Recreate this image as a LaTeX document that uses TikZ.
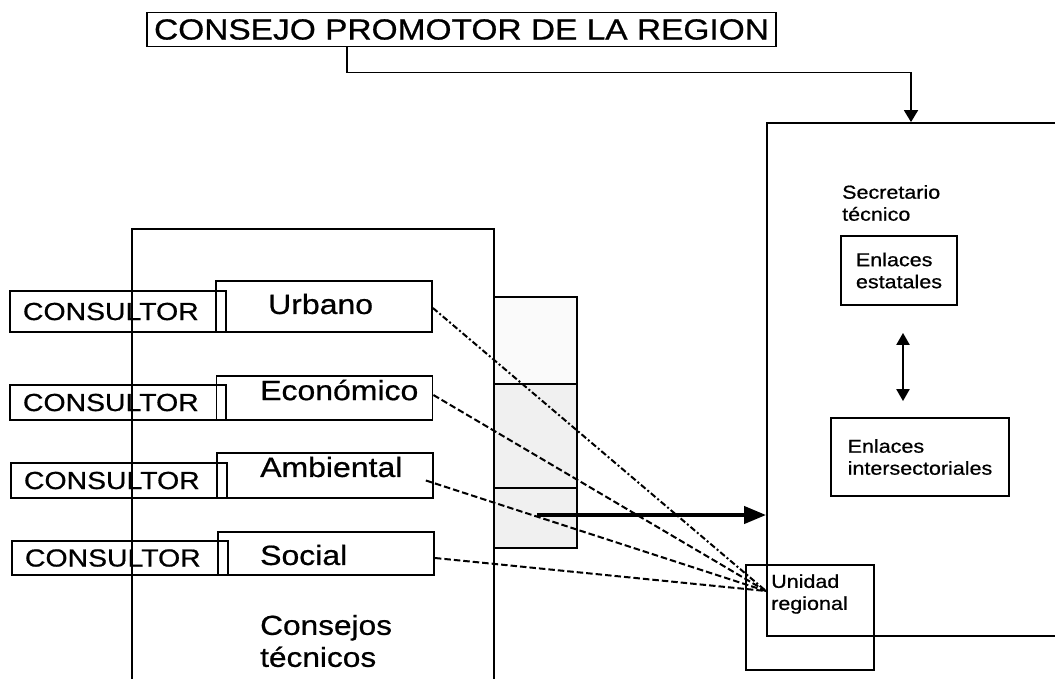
\documentclass[tikz,border=0pt]{standalone}
\usepackage{fontspec}
\setmainfont{Liberation Sans}[FakeStretch=1.15,FakeBold=0.7]
\usetikzlibrary{positioning,arrows.meta}

\begin{document}
\begin{tikzpicture}[x=1pt,y=-1pt,
  box/.style={draw, line width=1.8pt, inner sep=0pt},
  titlebox/.style={box, minimum width=629pt, minimum height=34pt, font=\fontsize{29.1}{35}\selectfont},
  consbox/.style={box, align=left, text width=190pt, inner xsep=13pt, minimum height=35pt, font=\fontsize{24.7}{29}\selectfont},
  sectbox/.style={box, minimum width=216pt},
  sectlbl/.style={anchor=west, inner sep=0pt, font=\fontsize{27.8}{32}\selectfont},
  smalltxt/.style={align=left, inner sep=0pt, font=\fontsize{18.7}{22}\selectfont},
  linkbox/.style={box, smalltxt},
  link/.style={line width=1.8pt, -{Triangle[length=12pt,width=14pt]}},
  dbl/.style={line width=2.2pt, {Triangle[length=12pt,width=13pt]}-{Triangle[length=12pt,width=13pt]}},
  bigarrow/.style={line width=4pt, -{Triangle[length=22pt,width=17pt]}},
  dashlink/.style={line width=2pt, dash pattern=on 6.5pt off 3pt},
  dotlink/.style={line width=2pt, dash pattern=on 6pt off 2.5pt on 2pt off 2.5pt}]
\useasboundingbox (0,0) rectangle (1055,678);

% consejo promotor
\node[titlebox] (title) at (461.5,29.5) {CONSEJO PROMOTOR DE LA REGION};

% secretario tecnico
\node[box, minimum width=333pt, minimum height=513pt] (sec) at (933.5,379.5) {};
\node[smalltxt, anchor=west] (sectxt) at (842,203) {Secretario\\técnico};
\node[linkbox, minimum width=116pt, minimum height=69pt] (est) at (899,270.5) {Enlaces\\estatales};
\node[linkbox, minimum width=178pt, minimum height=78pt] (inter) at (920,457) {Enlaces\\intersectoriales};
\node[box, minimum width=128pt, minimum height=105pt] (ur) at (810,617.5) {};
\node[smalltxt, anchor=west] (urtxt) at (771,594) {Unidad\\regional};

% consejos tecnicos
\node[box, minimum width=362pt, minimum height=491pt] (ct) at (313,474.5) {};
\node[sectlbl, align=left, font=\fontsize{27.5}{32}\selectfont] (cttxt) at (260,641) {Consejos\\técnicos};
\node[box, fill=gray!4, minimum width=83pt, minimum height=87pt] (c1) at (535.5,340.5) {};
\node[box, fill=gray!12, minimum width=83pt, minimum height=104pt] (c2) at (535.5,436) {};
\node[box, fill=gray!12, minimum width=83pt, minimum height=60pt] (c3) at (535.5,518) {};

% consultores
\node[consbox, minimum height=41pt] (cons1) at (118,311.5) {CONSULTOR};
\node[consbox] (cons2) at (118,402.5) {CONSULTOR};
\node[consbox] (cons3) at (119,480.5) {CONSULTOR};
\node[consbox, minimum height=34pt] (cons4) at (120,558) {CONSULTOR};

% sectores
\node[sectbox, minimum height=51pt] (urb) at (324,306.5) {};
\node[sectbox, minimum height=44pt] (eco) at (324.5,398) {};
\node[sectbox, minimum height=45pt] (amb) at (325,475.5) {};
\node[sectbox, minimum height=43pt] (soc) at (326,553.5) {};
\node[sectlbl] (urbtxt) at (268,304) {Urbano};
\node[sectlbl] (ecotxt) at (260,390) {Económico};
\node[sectlbl] (ambtxt) at (260,467) {Ambiental};
\node[sectlbl] (soctxt) at (260,555) {Social};

\coordinate (urin) at (766,591);
\coordinate (arrs) at (537,515);

\draw[link] ([xshift=-114.5pt]title.south) -- ++(0,25) -| ([xshift=-22.5pt]sec.north);
\draw[dbl] ([xshift=4pt,yshift=-27pt]est.south) -- ([xshift=-17pt,yshift=16pt]inter.north);
\draw[bigarrow] (arrs) -- (arrs -| sec.west);

\draw[dotlink] ([yshift=-1.5pt]urb.east) -- (urin);
\draw[dashlink] ([yshift=3pt]eco.east) -- (urin);
\draw[dashlink] ([xshift=-8pt,yshift=-5pt]amb.east) -- (urin);
\draw[dashlink] ([yshift=-4.5pt]soc.east) -- (urin);
\end{tikzpicture}
\end{document}
